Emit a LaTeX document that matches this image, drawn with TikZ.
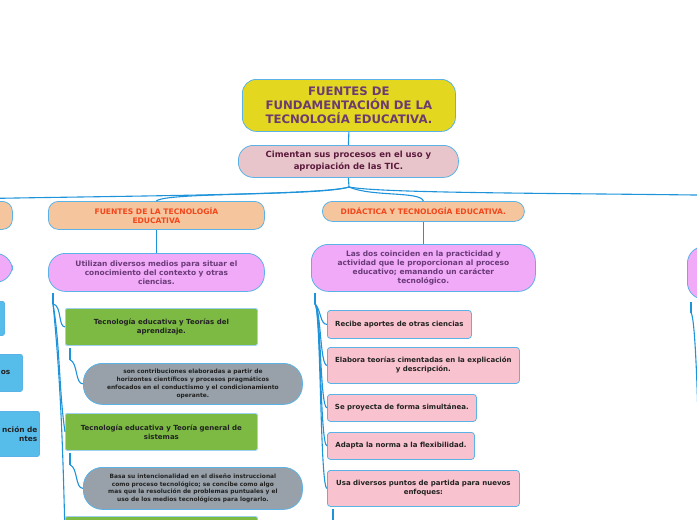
\documentclass[tikz,border=0pt]{standalone}
\usepackage{fontspec}
\setmainfont{DejaVu Sans}
\usetikzlibrary{calc}
\definecolor{linkblue}{HTML}{1E93DA}
\definecolor{edgeblue}{HTML}{5AB2E6}
\definecolor{titlefill}{HTML}{E3D81F}
\definecolor{titleink}{HTML}{6C3B70}
\definecolor{subfill}{HTML}{E8C5CB}
\definecolor{subink}{HTML}{5B1A3C}
\definecolor{branchfill}{HTML}{F5C69E}
\definecolor{branchink}{HTML}{F2461B}
\definecolor{ideafill}{HTML}{F0AAF8}
\definecolor{ideaink}{HTML}{6A3A78}
\definecolor{greenfill}{HTML}{7CBA43}
\definecolor{grayfill}{HTML}{98A1A9}
\definecolor{pinkfill}{HTML}{F8C3CF}
\definecolor{bluefill}{HTML}{56BDEB}
\definecolor{darkink}{HTML}{222222}

\begin{document}
\begin{tikzpicture}[
  x=1pt, y=-1pt,
  box/.style={draw=edgeblue, line width=0.8pt, align=center, anchor=north west, inner sep=2pt},
  topic/.style={box, fill=titlefill, text=titleink, rounded corners=14pt, font=\fontsize{11.7}{14}\selectfont\bfseries},
  subtopic/.style={box, fill=subfill, text=subink, rounded corners=15pt, font=\fontsize{8.5}{11.5}\selectfont\bfseries},
  branch/.style={box, fill=branchfill, text=branchink, rounded corners=10pt, font=\fontsize{7.6}{9}\selectfont\bfseries},
  idea/.style={box, fill=ideafill, text=ideaink, rounded corners=17pt, font=\fontsize{7.45}{9}\selectfont\bfseries},
  theory/.style={box, fill=greenfill, draw=edgeblue!60, text=darkink, rounded corners=1.5pt, font=\fontsize{7}{9}\selectfont\bfseries},
  remark/.style={box, fill=grayfill, text=darkink, rounded corners=19pt, font=\fontsize{5.9}{7.8}\selectfont\bfseries},
  trait/.style={box, fill=pinkfill, text=darkink, rounded corners=3pt, font=\fontsize{7}{9}\selectfont\bfseries},
  aside/.style={box, fill=bluefill, text=darkink, rounded corners=2pt, align=right, font=\fontsize{7.4}{8.5}\selectfont\bfseries},
  link/.style={draw=linkblue, line width=1.1pt}
]
\useasboundingbox (0,0) rectangle (697,520);
\clip (0,0) rectangle (697,520);

% root and first level
\node[topic, minimum width=213pt, minimum height=52pt] (title) at (242,79) {FUENTES DE\\FUNDAMENTACIÓN DE LA\\TECNOLOGÍA EDUCATIVA.};
\node[subtopic, minimum width=220pt, minimum height=32pt] (sub) at (238,145) {Cimentan sus procesos en el uso y\\apropiación de las TIC.};
\draw[link] (title.south) -- (sub.north);
\coordinate (hub) at (349,187);
\coordinate (rightend) at (760,196);
\draw[link] (sub.south) -- (hub);

% branches
\node[branch, minimum width=216pt, minimum height=28pt] (fleft) at (-204,201) {};
\node[branch, minimum width=216pt, minimum height=28pt] (fuentes) at (48,201) {FUENTES DE LA TECNOLOGÍA\\EDUCATIVA};
\node[branch, minimum width=202pt, minimum height=20pt] (didactica) at (322,201) {DIDÁCTICA Y TECNOLOGÍA EDUCATIVA.};
\draw[link] (hub) .. controls (320,197) and (0,196) .. (fleft.north);
\draw[link] (hub) .. controls (320,196) and (165,192) .. (fuentes.north);
\draw[link] (hub) .. controls (372,197) and (420,191) .. (didactica.north);
\draw[link] (hub) .. controls (385,194) and (600,193) .. (rightend);

% second level
\node[idea, minimum width=216pt, minimum height=29pt] (ileft) at (-204,253) {};
\node[idea, minimum width=216pt, minimum height=38pt] (util) at (48,253) {Utilizan diversos medios para situar el\\conocimiento del contexto y otras\\ciencias.};
\node[idea, minimum width=224pt, minimum height=47pt] (coincid) at (311,244) {Las dos coinciden en la practicidad y\\actividad que le proporcionan al proceso\\educativo; emanando un carácter\\tecnológico.};
\node[idea, minimum width=220pt, minimum height=53pt] (iright) at (687,246) {};
\draw[link] (fleft.south) -- (ileft.north);
\draw[link] (fuentes.south) -- (util.north);
\draw[link] (didactica.south) -- (coincid.north);

% left column (cut by the border)
\node[aside, minimum width=84pt, minimum height=34pt] (blue1) at (-80,301) {};
\node[aside, minimum width=102pt, minimum height=37pt, text width=98pt] (blue2) at (-80,354) {os\hspace*{10pt}};
\node[aside, minimum width=119pt, minimum height=45pt, text width=115pt] (blue3) at (-80,411) {nción de\hspace*{5pt}\\ntes\hspace*{20pt}\\[9pt]};

% fuentes column
\node[theory, minimum width=192pt, minimum height=37pt] (green1) at (65,308) {Tecnología educativa y Teorías del\\aprendizaje.};
\node[remark, minimum width=219pt, minimum height=41pt] (gray1) at (83,363) {son contribuciones elaboradas a partir de\\horizontes científicos y procesos pragmáticos\\enfocados en el conductismo y el condicionamiento\\operante.};
\node[theory, minimum width=192pt, minimum height=37pt] (green2) at (65,413) {Tecnología educativa y Teoría general de\\sistemas};
\node[remark, minimum width=219pt, minimum height=42pt] (gray2) at (83,467) {Basa su intencionalidad en el diseño instruccional\\como proceso tecnológico; se concibe como algo\\mas que la resolución de problemas puntuales y el\\uso de los medios tecnológicos para lograrlo.};
\node[theory, minimum width=192pt, minimum height=37pt] (green3) at (65,516) {};

\draw[link] ($(util.south west)+(5,1)$) -- ++(0,11) coordinate (uk);
\draw[link] (uk) .. controls +(9,2) and +(-7,0) .. (green1.west);
\draw[link] (uk) .. controls +(7,40) and +(-6,-40) .. (green2.west);
\draw[link] (uk) .. controls +(8,80) and +(-2,-80) .. (green3.west);
\draw[link] ($(green1.south west)+(5,2)$) -- ++(0,12) coordinate (gk1);
\draw[link] (gk1) .. controls +(8,3) and +(-8,0) .. (gray1.west);
\draw[link] ($(green2.south west)+(5,2)$) -- ++(0,12) coordinate (gk2);
\draw[link] (gk2) .. controls +(8,3) and +(-8,0) .. (gray2.west);

% didactica column
\node[trait, minimum width=144pt, minimum height=28pt] (pink1) at (327,310) {Recibe aportes de otras ciencias};
\node[trait, minimum width=192pt, minimum height=36pt] (pink2) at (327,347) {Elabora teorías cimentadas en la explicación\\y descripción.};
\node[trait, minimum width=149pt, minimum height=27pt] (pink3) at (327,394) {Se proyecta de forma simultánea.};
\node[trait, minimum width=147pt, minimum height=27pt] (pink4) at (327,432) {Adapta la norma a la flexibilidad.};
\node[trait, minimum width=192pt, minimum height=36pt] (pink5) at (327,470) {Usa diversos puntos de partida para nuevos\\enfoques:};

\draw[link] ($(coincid.south west)+(4,1)$) -- ++(0,11) coordinate (ck);
\foreach \i in {1,...,5}
  \draw[link] (ck) .. controls +(6,6) and +(-7,0) .. (pink\i.west);
\draw[link] ($(pink5.south west)+(6,2)$) -- ++(0,20);

% right column (cut by the border)
\coordinate (rightlow) at (700,560);
\draw[link] ($(iright.south west)+(4,2)$) -- ++(0,11) coordinate (rk);
\draw[link] (rk) .. controls +(6,6) and +(0,-80) .. (rightlow);

\end{tikzpicture}
\end{document}
